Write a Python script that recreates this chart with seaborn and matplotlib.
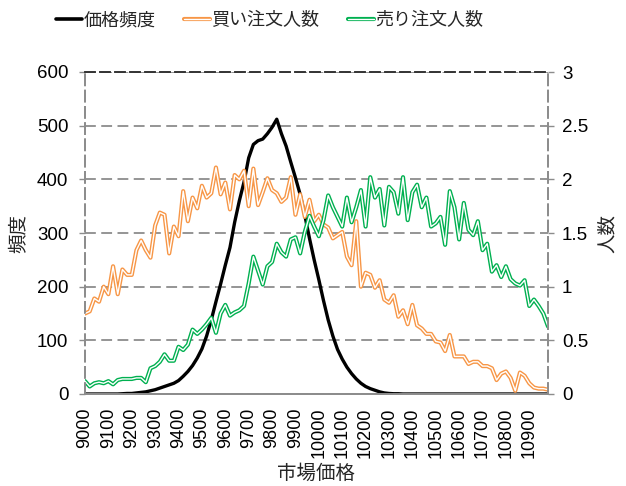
import numpy as np
import pandas as pd
import matplotlib
matplotlib.use("Agg")
import matplotlib.pyplot as plt
from matplotlib.lines import Line2D
from matplotlib.legend_handler import HandlerTuple
import seaborn as sns

# ---- data ----
prices = list(range(9000, 11000, 20))          # 市場価格 (category axis)
tick_prices = list(range(9000, 11000, 100))

freq = [0, 0, 0, 0, 0, 0, 0, 0, 0.5, 1,
        1, 2, 3, 4, 6, 8, 11, 14, 17, 20,
        25, 33, 42, 53, 67, 84, 108, 138, 172, 205,
        240, 273, 320, 360, 395, 440, 465, 472, 475, 485,
        497, 512, 485, 462, 432, 403, 372, 333, 290, 250,
        213, 174, 138, 108, 83, 65, 50, 38, 28, 20,
        14, 10, 7, 4, 2, 1, 0.5, 0.5, 0, 0,
        0, 0, 0, 0, 0, 0, 0, 0, 0, 0,
        0, 0, 0, 0, 0, 0, 0, 0, 0, 0,
        0, 0, 0, 0, 0, 0, 0, 0, 0, 0]

buy = [0.75, 0.77, 0.89, 0.86, 1.00, 0.93, 1.19, 0.93, 1.16, 1.11,
       1.11, 1.34, 1.43, 1.34, 1.27, 1.57, 1.69, 1.67, 1.31, 1.56,
       1.47, 1.89, 1.61, 1.83, 1.73, 1.94, 1.83, 1.87, 2.11, 1.86,
       1.97, 1.72, 2.04, 2.00, 2.08, 1.75, 2.10, 1.76, 1.88, 2.01,
       1.90, 1.87, 1.79, 1.83, 2.02, 1.67, 1.86, 1.65, 1.81, 1.61,
       1.67, 1.58, 1.55, 1.45, 1.48, 1.51, 1.28, 1.20, 1.61, 1.00,
       1.13, 1.11, 0.99, 1.06, 0.88, 0.85, 0.92, 0.72, 0.78, 0.65,
       0.83, 0.64, 0.61, 0.56, 0.56, 0.49, 0.48, 0.40, 0.55, 0.35,
       0.35, 0.35, 0.28, 0.30, 0.30, 0.26, 0.26, 0.24, 0.13, 0.19,
       0.21, 0.15, 0.03, 0.20, 0.17, 0.10, 0.06, 0.05, 0.05, 0.04]

sell = [0.12, 0.07, 0.10, 0.11, 0.10, 0.12, 0.09, 0.13, 0.14, 0.14,
        0.14, 0.15, 0.15, 0.11, 0.24, 0.26, 0.30, 0.37, 0.31, 0.31,
        0.44, 0.41, 0.46, 0.60, 0.56, 0.60, 0.65, 0.71, 0.57, 0.75,
        0.83, 0.73, 0.76, 0.78, 0.82, 1.03, 1.28, 1.15, 1.02, 1.19,
        1.23, 1.40, 1.32, 1.28, 1.44, 1.46, 1.31, 1.51, 1.66, 1.56,
        1.47, 1.62, 1.85, 1.74, 1.65, 1.56, 1.83, 1.60, 1.74, 1.90,
        1.56, 2.02, 1.83, 1.91, 1.57, 1.93, 1.88, 1.68, 2.02, 1.62,
        1.88, 1.95, 1.74, 1.83, 1.56, 1.59, 1.65, 1.39, 1.89, 1.74,
        1.44, 1.78, 1.53, 1.48, 1.61, 1.34, 1.40, 1.14, 1.20, 1.09,
        1.19, 1.07, 1.03, 1.01, 1.06, 0.82, 0.88, 0.82, 0.75, 0.63]

labels = ["価格頻度", "買い注文人数", "売り注文人数"]

df = pd.DataFrame({"price": prices, "freq": freq, "buy": buy, "sell": sell})

# ---- style ----
sns.set_style("white")
plt.rcParams["font.family"] = ["Liberation Sans", "Noto Sans CJK JP", "DejaVu Sans"]

ORANGE = "#F79646"
GREEN = "#00B050"
GRID = "#8C8C8C"

fig = plt.figure(figsize=(6.26, 4.86), dpi=100)
ax = fig.add_axes([85 / 626, 1 - 394 / 486, (548 - 85) / 626, (394 - 72) / 486])
ax2 = ax.twinx()

# primary: price frequency
sns.lineplot(data=df, x="price", y="freq", ax=ax, color="black", linewidth=2.4, legend=False)

# secondary: double (outlined) lines
for col, c in (("buy", ORANGE), ("sell", GREEN)):
    sns.lineplot(data=df, x="price", y=col, ax=ax2, color=c, linewidth=3.0, legend=False)
    sns.lineplot(data=df, x="price", y=col, ax=ax2, color="white", linewidth=1.0, legend=False)

ax.set_xlim(prices[0], prices[-1])
ax.set_ylim(0, 600)
ax2.set_ylim(0, 3)
ax.set_yticks(range(0, 601, 100))
ax2.set_yticks([0, 0.5, 1, 1.5, 2, 2.5, 3])
ax2.set_yticklabels(["0", "0.5", "1", "1.5", "2", "2.5", "3"])
ax.set_xticks(tick_prices)
ax.set_xticklabels([str(p) for p in tick_prices], rotation=90)
ax.set_xticks([prices[-1]], minor=True)

ax.grid(axis="y", color=GRID, linestyle=(0, (6, 3)), linewidth=1.3)
ax.grid(axis="x", visible=False)
ax2.grid(False)

for a in (ax, ax2):
    a.tick_params(axis="both", which="both", direction="out", length=4, width=1,
                  color=GRID, labelsize=13.5, labelcolor="black")
    for s in ("left", "right"):
        a.spines[s].set_color(GRID)
        a.spines[s].set_linestyle((0, (6, 3)))
        a.spines[s].set_linewidth(1.3)
    a.spines["top"].set_color("#333333")
    a.spines["top"].set_linestyle((0, (6, 3)))
    a.spines["top"].set_linewidth(1.2)
    a.spines["bottom"].set_color(GRID)
    a.spines["bottom"].set_linewidth(1.3)
ax.tick_params(axis="x", pad=6, labelsize=13)
ax.tick_params(axis="y", pad=8)
ax2.tick_params(axis="y", pad=6)

ax.set_xlabel("市場価格", fontsize=14)
ax.xaxis.set_label_coords(0.5, (394 - 464) / 322)
ax.set_ylabel("頻度", fontsize=14, labelpad=6)
ax2.set_ylabel("人数", fontsize=14, labelpad=8)

# legend
h_black = Line2D([], [], color="black", linewidth=2.6)
h_buy = (Line2D([], [], color=ORANGE, linewidth=3.0), Line2D([], [], color="white", linewidth=1.0))
h_sell = (Line2D([], [], color=GREEN, linewidth=3.0), Line2D([], [], color="white", linewidth=1.0))
fig.legend([h_black, h_buy, h_sell], labels, loc="center",
           bbox_to_anchor=(270 / 626, 1 - 21 / 486), ncol=3, frameon=False,
           fontsize=13, handlelength=1.4, handletextpad=0.1, columnspacing=1.6,
           handler_map={tuple: HandlerTuple(ndivide=1)})

fig.savefig("out.png", dpi=100)
